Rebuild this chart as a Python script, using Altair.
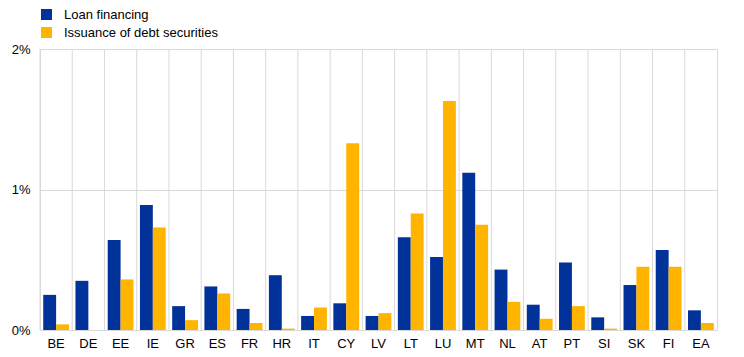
import altair as alt
import pandas as pd

countries = ["BE", "DE", "EE", "IE", "GR", "ES", "FR", "HR", "IT", "CY", "LV",
             "LT", "LU", "MT", "NL", "AT", "PT", "SI", "SK", "FI", "EA"]
loan_financing = [0.25, 0.35, 0.64, 0.89, 0.17, 0.31, 0.15, 0.39, 0.10, 0.19, 0.10,
                  0.66, 0.52, 1.12, 0.43, 0.18, 0.48, 0.09, 0.32, 0.57, 0.14]
debt_securities = [0.04, 0.00, 0.36, 0.73, 0.07, 0.26, 0.05, 0.01, 0.16, 1.33, 0.12,
                   0.83, 1.63, 0.75, 0.20, 0.08, 0.17, 0.01, 0.45, 0.45, 0.05]
series = ["Loan financing", "Issuance of debt securities"]
colors = ["#003299", "#FFB400"]

rows = []
for i, c in enumerate(countries):
    rows.append({"country": c, "series": series[0], "value": loan_financing[i]})
    rows.append({"country": c, "series": series[1], "value": debt_securities[i]})
df = pd.DataFrame(rows)
grid_df = pd.DataFrame({"country": countries})

FONT = "Liberation Sans"

x_scale = alt.Scale(domain=countries, paddingInner=0, paddingOuter=0)
x_axis = alt.Axis(labelAngle=0, domain=False, ticks=False, grid=False,
                  labelPadding=7, labelFontSize=13, labelFont=FONT,
                  labelColor="#000000")

grid = alt.Chart(grid_df).mark_rule(color="#d9d9d9", strokeWidth=1).encode(
    x=alt.X("country:N", scale=x_scale, bandPosition=0, title=None, axis=x_axis)
)

bars = alt.Chart(df).mark_bar().encode(
    x=alt.X("country:N", scale=x_scale, title=None, axis=x_axis),
    xOffset=alt.XOffset("series:N", sort=series,
                        scale=alt.Scale(domain=series, paddingInner=0, paddingOuter=0.25)),
    y=alt.Y("value:Q", title=None,
            scale=alt.Scale(domain=[0, 2], nice=False),
            axis=alt.Axis(values=[0, 1, 2], labelExpr="datum.value + '%'",
                          domain=False, ticks=False, gridColor="#d9d9d9",
                          labelPadding=10, labelFontSize=13, labelFont=FONT,
                          labelColor="#000000")),
    color=alt.Color("series:N", sort=series,
                    scale=alt.Scale(domain=series, range=colors),
                    legend=alt.Legend(title=None, orient="none", legendX=0, legendY=-41,
                                      symbolType="square", symbolSize=121,
                                      symbolStrokeWidth=0, labelFontSize=13,
                                      labelFont=FONT, labelColor="#000000",
                                      labelOffset=11, rowPadding=4, padding=0)),
)

chart = alt.layer(grid, bars).properties(
    width=677, height=281,
    padding={"left": 32, "top": 41, "right": 15, "bottom": 19},
    autosize=alt.AutoSizeParams(type="none"),
).configure_view(stroke="#d9d9d9", strokeWidth=1)

chart.save("out.html", embed_options={"renderer": "svg", "actions": False})
